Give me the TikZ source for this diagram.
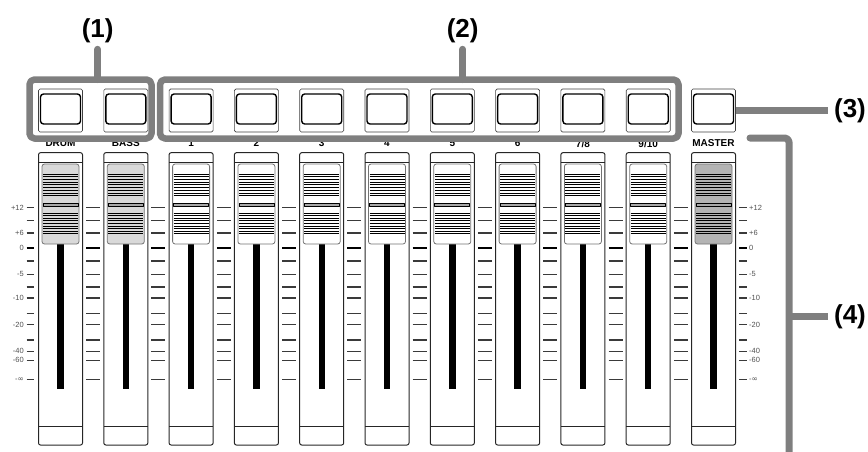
\documentclass[tikz,border=0pt]{standalone}
\usepackage{fontspec}
\setmainfont{Liberation Sans}
\newfontfamily\symfont{DejaVu Sans}
\begin{document}
\begin{tikzpicture}[x=1pt, y=-1pt, line join=round,
    leaderLine/.style={draw=leaderColour, line width=7pt, line cap=round},
    groupBox/.style={draw=leaderColour, line width=6.5pt, rounded corners=5pt},
    callout/.style={font=\bfseries\fontsize{26}{26}\selectfont, inner sep=6pt},
    chanName/.style={font=\bfseries\fontsize{10}{10}\selectfont, inner sep=0pt},
    scaleText/.style={font=\fontsize{7.5}{7.5}\selectfont, text=textGrey, inner sep=1pt}]
    \def\pitch{65.3}
    \def\firstX{60.5}

    \definecolor{leaderColour}{HTML}{7F7F7F}
    \definecolor{knobGrey}{HTML}{D9D9D9}
    \definecolor{masterGrey}{HTML}{B4B4B4}
    \definecolor{bandGrey}{HTML}{A8A8A8}
    \definecolor{tickColour}{HTML}{3A3A3A}
    \definecolor{textGrey}{HTML}{505050}

    \useasboundingbox (0,0) rectangle (868,451);

    % Draw channel strips
    \foreach \i/\name/\knob in {0/DRUM/knobGrey, 1/BASS/knobGrey, 2/1/white, 3/2/white, 4/3/white,
        5/4/white, 6/5/white, 7/6/white, 8/{7/8}/white, 9/{9/10}/white, 10/MASTER/masterGrey} {
        \pgfmathsetmacro{\cx}{\firstX+\pitch*\i}
        % button
        \draw[black!75, line width=0.6pt, rounded corners=1.5pt] (\cx-22,89) rectangle (\cx+22,132);
        \draw[line width=1.4pt, rounded corners=3pt] (\cx-20,94) rectangle (\cx+20,124);
        \coordinate (btn\i) at (\cx+22,110.7);
        % channel name
        \node[chanName] (name\i) at (\cx,143.5) {\name};
        % strip body
        \draw[black!85, line width=1pt, rounded corners=2pt] (\cx-22,152.7) rectangle (\cx+22,445);
        \draw[black!85, line width=1pt] (\cx-22,162) -- (\cx+22,162);
        \draw[black!85, line width=1pt] (\cx-22,426) -- (\cx+22,426);
        % fader slot
        \fill (\cx-3.2,244) rectangle (\cx+3.2,389);
        % fader knob
        \draw[fill=\knob, draw=black!55, line width=0.8pt, rounded corners=2.5pt] (\cx-18.5,164) rectangle (\cx+18.5,244);
        \foreach \s in {0,...,8} {
            \draw[line width=0.75pt] (\cx-17.5,174+2.7*\s) -- (\cx+17.5,174+2.7*\s);
            \draw[line width=0.75pt] (\cx-17.5,213+2.6*\s) -- (\cx+17.5,213+2.6*\s);
        }
        \draw[fill=bandGrey, line width=0.75pt] (\cx-17.5,203.5) rectangle (\cx+17.5,206.8);
    }

    % Draw scale ticks
    \foreach \ty in {207.7,220.3,233,261,274.3,287,298,313.7,324.7,340,351.3,360.3,379.3} {
        \draw[tickColour, line width=1.2pt] (26.7,\ty) -- (34.3,\ty);
        \draw[tickColour, line width=1.2pt] (739,\ty) -- (747,\ty);
        \foreach \g in {0,...,9} {
            \pgfmathsetmacro{\tx}{\firstX+\pitch*\g+32.65}
            \draw[tickColour, line width=1.2pt] (\tx-7,\ty) -- (\tx+7,\ty);
        }
    }
    \draw[line width=2.4pt] (26.7,247.7) -- (34.3,247.7);
    \draw[line width=2.4pt] (739,247.7) -- (747,247.7);
    \foreach \g in {0,...,9} {
        \pgfmathsetmacro{\tx}{\firstX+\pitch*\g+32.65}
        \draw[line width=2.4pt] (\tx-7,247.7) -- (\tx+7,247.7);
    }

    % Label scales
    \foreach \ty/\lab [count=\k] in {207.7/+12, 233/+6, 247.7/0, 274.3/-5, 298/-10, 324.7/-20, 351.3/-40, 360.3/-60, 379.3/-{\symfont ∞}} {
        \node[scaleText, anchor=east] (scaleL\k) at (25,\ty) {\lab};
        \node[scaleText, anchor=west] (scaleR\k) at (748,\ty) {\lab};
    }

    % Group boxes
    \draw[groupBox] (29.5,79.5) rectangle (151.5,138.5);
    \draw[groupBox] (160,79.5) rectangle (678.5,138.5);
    \coordinate (box1) at (97.7,79.5);
    \coordinate (box2) at (462.7,79.5);

    % Callouts
    \node[callout] (c1) at (97.7,31) {(1)};
    \node[callout] (c2) at (462.7,31) {(2)};
    \node[callout] (c3) at (850,110.7) {(3)};
    \node[callout] (c4) at (850,316.7) {(4)};

    \draw[leaderLine] (c1) -- (c1 |- box1);
    \draw[leaderLine] (c2) -- (c2 |- box2);
    \draw[leaderLine, line cap=butt] (btn10) -- (c3);
    \coordinate (bracketTop) at (750,138);
    \coordinate (bracketBend) at (789,138);
    \coordinate (bracketEnd) at (789,456);
    \draw[leaderLine, rounded corners=4pt] (bracketTop) -- (bracketBend) -- (bracketEnd);
    \draw[leaderLine, line cap=butt] (bracketBend |- c4) -- (c4);

\end{tikzpicture}
\end{document}
